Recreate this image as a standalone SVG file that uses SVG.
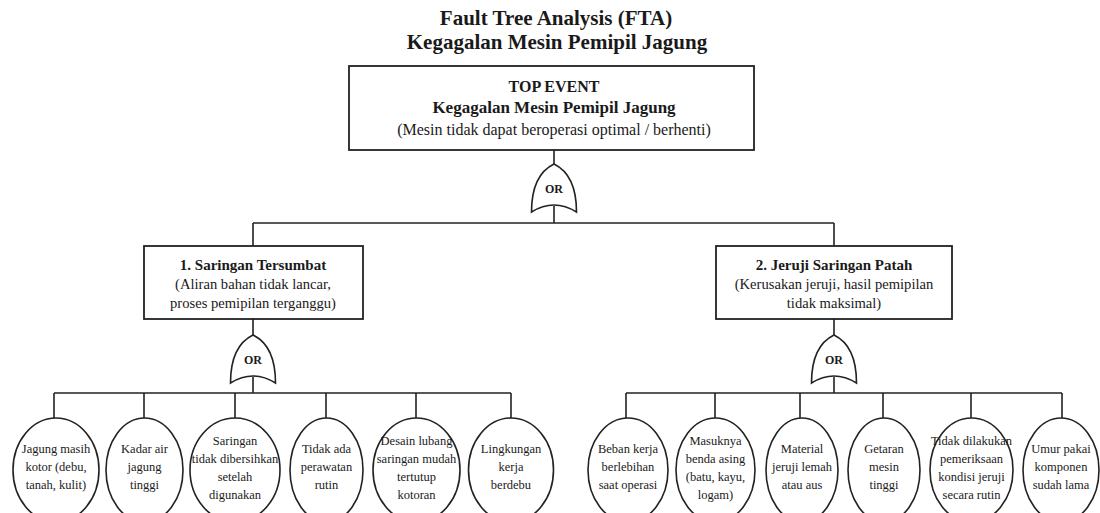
<svg xmlns="http://www.w3.org/2000/svg" width="1100" height="513" viewBox="0 0 1100 513">
<defs>
<style>
text{font-family:"Liberation Serif","Times New Roman",serif;fill:#1a1a1a;text-anchor:middle}
.title{font-size:21px;font-weight:bold}
.b16{font-size:17px;font-weight:bold}
.b16t{font-size:16px;font-weight:bold}
.n15{font-size:16px}
.b14{font-size:15px;font-weight:bold}
.n14{font-size:14.6px}
.e{font-size:12.5px}
.or{font-size:12px;font-weight:bold}
.box{fill:#fff;stroke:#222;stroke-width:1.8}
.ell{fill:#fff;stroke:#222;stroke-width:1.6}
.gate{fill:#fff;stroke:#222;stroke-width:1.6}
.conn{fill:none;stroke:#222;stroke-width:1.6}
</style>
<path id="orgate" d="M -22.5 48 Q -22.5 11 0 0 Q 22.5 11 22.5 48 Q 0 34 -22.5 48 Z"/>
</defs>
<rect width="1100" height="513" fill="#fff"/>
<g id="title">
<text class="title" x="556" y="25">Fault Tree Analysis (FTA)</text>
<text class="title" x="557" y="49">Kegagalan Mesin Pemipil Jagung</text>
</g>
<g id="connectors">
<path class="conn" d="M554 150 V164 M554 206 V223 M253 223 H834 M253 223 V246 M834 223 V246"/>
<path class="conn" d="M253 319 V335 M253 377 V393 M54 393 H511 M54 393 V418 M144 393 V418 M235 393 V418 M326 393 V418 M416 393 V418 M511 393 V418"/>
<path class="conn" d="M834 319 V335 M834 377 V393 M626 393 H1062 M626 393 V418 M715 393 V418 M800 393 V418 M883 393 V418 M971 393 V418 M1062 393 V418"/>
</g>
<g id="top-event">
<rect class="box" x="349" y="66" width="405" height="84"/>
<text class="b16t" x="554" y="92">TOP EVENT</text>
<text class="b16" x="554" y="113">Kegagalan Mesin Pemipil Jagung</text>
<text class="n15" x="554" y="135">(Mesin tidak dapat beroperasi optimal / berhenti)</text>
</g>
<g id="gate-top">
<use href="#orgate" class="gate" x="554" y="164"/>
<text class="or" x="554" y="193">OR</text>
</g>
<g id="event-1">
<rect class="box" x="144" y="246" width="219" height="73"/>
<text class="b14" x="253" y="270">1. Saringan Tersumbat</text>
<text class="n14" x="253" y="289">(Aliran bahan tidak lancar,</text>
<text class="n14" x="253" y="308">proses pemipilan terganggu)</text>
</g>
<g id="event-2">
<rect class="box" x="716" y="246" width="236" height="73"/>
<text class="b14" x="834" y="270">2. Jeruji Saringan Patah</text>
<text class="n14" x="834" y="289">(Kerusakan jeruji, hasil pemipilan</text>
<text class="n14" x="834" y="308">tidak maksimal)</text>
</g>
<g id="gate-1">
<use href="#orgate" class="gate" x="253" y="335"/>
<text class="or" x="253" y="364">OR</text>
</g>
<g id="gate-2">
<use href="#orgate" class="gate" x="834" y="335"/>
<text class="or" x="834" y="364">OR</text>
</g>
<g id="basic-1">
<ellipse class="ell" cx="56" cy="470" rx="43" ry="52"/>
<text class="e" x="56" y="453">Jagung masih</text>
<text class="e" x="56" y="471">kotor (debu,</text>
<text class="e" x="56" y="489">tanah, kulit)</text>
</g>
<g id="basic-2">
<ellipse class="ell" cx="144.5" cy="470" rx="38.5" ry="52"/>
<text class="e" x="144.5" y="453">Kadar air</text>
<text class="e" x="144.5" y="471">jagung</text>
<text class="e" x="144.5" y="489">tinggi</text>
</g>
<g id="basic-3">
<ellipse class="ell" cx="235" cy="470" rx="45" ry="52"/>
<text class="e" x="235" y="445">Saringan</text>
<text class="e" x="235" y="463">tidak dibersihkan</text>
<text class="e" x="235" y="481">setelah</text>
<text class="e" x="235" y="499">digunakan</text>
</g>
<g id="basic-4">
<ellipse class="ell" cx="326.5" cy="470" rx="36.5" ry="52"/>
<text class="e" x="326.5" y="453">Tidak ada</text>
<text class="e" x="326.5" y="471">perawatan</text>
<text class="e" x="326.5" y="489">rutin</text>
</g>
<g id="basic-5">
<ellipse class="ell" cx="416.5" cy="470" rx="43.5" ry="52"/>
<text class="e" x="416.5" y="445">Desain lubang</text>
<text class="e" x="416.5" y="463">saringan mudah</text>
<text class="e" x="416.5" y="481">tertutup</text>
<text class="e" x="416.5" y="499">kotoran</text>
</g>
<g id="basic-6">
<ellipse class="ell" cx="511" cy="470" rx="42.5" ry="52"/>
<text class="e" x="511" y="453">Lingkungan</text>
<text class="e" x="511" y="471">kerja</text>
<text class="e" x="511" y="489">berdebu</text>
</g>
<g id="basic-7">
<ellipse class="ell" cx="628" cy="470" rx="40" ry="52"/>
<text class="e" x="628" y="453">Beban kerja</text>
<text class="e" x="628" y="471">berlebihan</text>
<text class="e" x="628" y="489">saat operasi</text>
</g>
<g id="basic-8">
<ellipse class="ell" cx="715.5" cy="470" rx="39.5" ry="52"/>
<text class="e" x="715.5" y="445">Masuknya</text>
<text class="e" x="715.5" y="463">benda asing</text>
<text class="e" x="715.5" y="481">(batu, kayu,</text>
<text class="e" x="715.5" y="499">logam)</text>
</g>
<g id="basic-9">
<ellipse class="ell" cx="802" cy="470" rx="36" ry="52"/>
<text class="e" x="802" y="453">Material</text>
<text class="e" x="802" y="471">jeruji lemah</text>
<text class="e" x="802" y="489">atau aus</text>
</g>
<g id="basic-10">
<ellipse class="ell" cx="884" cy="470" rx="36" ry="52"/>
<text class="e" x="884" y="453">Getaran</text>
<text class="e" x="884" y="471">mesin</text>
<text class="e" x="884" y="489">tinggi</text>
</g>
<g id="basic-11">
<ellipse class="ell" cx="971.5" cy="470" rx="41.5" ry="52"/>
<text class="e" x="971.5" y="445">Tidak dilakukan</text>
<text class="e" x="971.5" y="463">pemeriksaan</text>
<text class="e" x="971.5" y="481">kondisi jeruji</text>
<text class="e" x="971.5" y="499">secara rutin</text>
</g>
<g id="basic-12">
<ellipse class="ell" cx="1061" cy="470" rx="38" ry="52"/>
<text class="e" x="1061" y="453">Umur pakai</text>
<text class="e" x="1061" y="471">komponen</text>
<text class="e" x="1061" y="489">sudah lama</text>
</g>
</svg>
